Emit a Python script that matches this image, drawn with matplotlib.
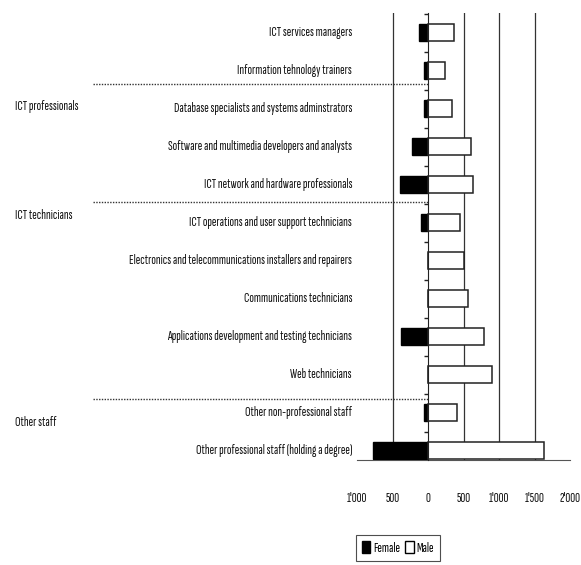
import matplotlib
matplotlib.use("Agg")
import matplotlib.pyplot as plt
import matplotlib.transforms as mtransforms
from matplotlib.patches import Patch
from matplotlib.lines import Line2D

plt.rcParams['font.family'] = ['Sofia Sans Extra Condensed', 'DejaVu Sans']

categories = [
    "ICT services managers",
    "Information tehnology trainers",
    "Database specialists and systems adminstrators",
    "Software and multimedia developers and analysts",
    "ICT network and hardware professionals",
    "ICT operations and user support technicians",
    "Electronics and telecommunications installers and repairers",
    "Communications technicians",
    "Applications development and testing technicians",
    "Web technicians",
    "Other non-professional staff",
    "Other professional staff (holding a degree)",
]
female = [125, 50, 50, 220, 400, 100, 0, 0, 375, 0, 50, 780]
male = [370, 240, 345, 600, 635, 450, 500, 560, 785, 905, 415, 1635]

groups = ["ICT professionals", "ICT technicians", "Other staff"]
group_label_y = [1.95, 4.82, 10.27]
separator_y = [1.35, 4.455, 9.64]

xticks = [-1000, -500, 0, 500, 1000, 1500, 2000]
xticklabels = ["1'000", "500", "0", "500", "1'000", "1'500", "2'000"]
gridlines = [-500, 500, 1000, 1500]

FS = 9.8
TXT = '#111111'
WT = 'medium'

W, H = 581, 565
fig = plt.figure(figsize=(W / 100, H / 100), dpi=100)
ax = fig.add_axes([357 / W, 1 - 460 / H, (570 - 357) / W, (460 - 13) / H])

ypos = list(range(len(categories)))
ax.barh(ypos, [-f for f in female], height=0.45, color='black', edgecolor='black', linewidth=1, zorder=3)
ax.barh(ypos, male, height=0.45, color='white', edgecolor='#222222', linewidth=1.1, zorder=3)

ax.set_xlim(-1000, 2000)
ax.set_ylim(11.245, -0.518)

for g in gridlines:
    ax.axvline(g, color='#333333', linewidth=0.9, zorder=1)

for s in ['top', 'right']:
    ax.spines[s].set_visible(False)
ax.spines['left'].set_position(('data', 0))
ax.spines['left'].set_color('#222222')
ax.spines['left'].set_zorder(4)
ax.spines['bottom'].set_color('#555555')
ax.spines['bottom'].set_linewidth(0.8)

ax.set_yticks([i + 0.5 for i in range(-1, 11)])
ax.set_yticklabels([])
ax.tick_params(axis='y', length=3, width=1, color='#222222', direction='out')

ax.set_xticks(xticks)
ax.set_xticklabels(xticklabels, fontsize=FS, color=TXT, fontweight=WT)
ax.tick_params(axis='x', length=0, pad=23)

tr = mtransforms.blended_transform_factory(fig.transFigure, ax.transData)
for i, c in enumerate(categories):
    ax.text(352 / W, i, c, transform=tr, ha='right', va='center', fontsize=FS,
            color=TXT, fontweight=WT)

for g, y in zip(groups, group_label_y):
    ax.text(15 / W, y, g, transform=tr, ha='left', va='center', fontsize=FS,
            color=TXT, fontweight=WT)

x0 = 92.7 / W
x1 = 428.3 / W
for y in separator_y:
    ln = Line2D([x0, x1], [y, y], transform=tr, color='#333333', linewidth=1.0,
                linestyle=(0, (1, 1)), clip_on=False)
    fig.add_artist(ln)

handles = [Patch(facecolor='black', edgecolor='black', label='Female'),
           Patch(facecolor='white', edgecolor='black', label='Male')]
leg = fig.legend(handles=handles, loc='center', bbox_to_anchor=(398 / W, 1 - 548 / H),
                 ncol=2, handlelength=0.6, handleheight=1.0, handletextpad=0.2,
                 columnspacing=0.4, borderpad=0.45, fancybox=False, frameon=True,
                 edgecolor='#222222', borderaxespad=0,
                 prop={'size': FS, 'weight': WT})
leg.get_frame().set_linewidth(0.8)

fig.savefig("out.png", dpi=100)
